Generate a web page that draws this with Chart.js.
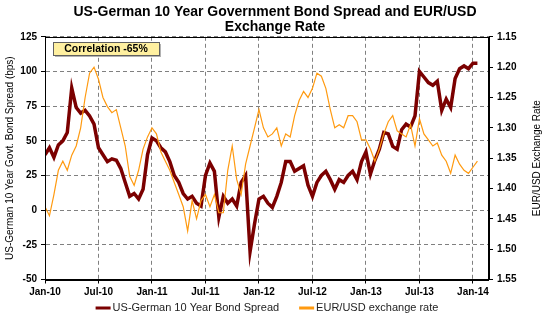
<!DOCTYPE html>
<html>
<head>
<meta charset="utf-8">
<script src="https://cdn.jsdelivr.net/npm/chart.js@4.4.1/dist/chart.umd.min.js"></script>
<style>
  html, body { margin: 0; padding: 0; background: #fff; }
</style>
</head>
<body>
<canvas id="chart" width="550" height="322"></canvas>
<script>
// one point every half month, starting Jan 2010
const tickLabels = ["Jan-10", "Jul-10", "Jan-11", "Jul-11", "Jan-12", "Jul-12", "Jan-13", "Jul-13", "Jan-14"];
const pointsPerTick = 12;

const spread = [
  40, 45, 38, 47, 50, 56, 88, 74, 70, 72,
  68, 62, 45, 40, 35, 37, 36, 30, 20, 10,
  12, 8, 15, 40, 52, 50, 45, 42, 35, 25,
  20, 12, 8, 10, 5, 3, 25, 34, 28, -5,
  10, 5, 8, 3, 20, 25, -30, -10, 8, 10,
  5, 2, 10, 20, 35, 35, 28, 30, 32, 18,
  10, 20, 25, 28, 22, 15, 22, 20, 25, 28,
  22, 35, 42, 26, 36, 44, 56, 55, 46, 44,
  58, 62, 60, 68, 100, 96, 92, 90, 93, 72,
  80, 74, 95, 102, 104, 102, 106, 106
];

const eurusd = [
  1.430, 1.445, 1.410, 1.370, 1.355, 1.370, 1.345, 1.330, 1.300, 1.250,
  1.210, 1.200, 1.220, 1.250, 1.265, 1.275, 1.270, 1.300, 1.330, 1.380,
  1.395, 1.370, 1.335, 1.315, 1.300, 1.310, 1.340, 1.355, 1.370, 1.390,
  1.410, 1.430, 1.470, 1.420, 1.450, 1.420, 1.410, 1.430, 1.410, 1.440,
  1.440, 1.370, 1.330, 1.385, 1.410, 1.360, 1.330, 1.300, 1.270, 1.300,
  1.315, 1.310, 1.300, 1.330, 1.310, 1.315, 1.280, 1.255, 1.240, 1.250,
  1.235, 1.210, 1.215, 1.235, 1.270, 1.300, 1.295, 1.300, 1.280, 1.280,
  1.290, 1.320, 1.320, 1.335, 1.355, 1.335, 1.310, 1.290, 1.280, 1.305,
  1.310, 1.315, 1.295, 1.330, 1.285, 1.310, 1.320, 1.330, 1.325, 1.345,
  1.355, 1.375, 1.345, 1.360, 1.370, 1.375, 1.365, 1.355
];

const seriesNames = ["US-German 10 Year Bond Spread", "EUR/USD exchange rate"];
const chartTitle = ["US-German 10 Year Government Bond Spread and EUR/USD", "Exchange Rate"];
const leftAxisTitle = "US-German 10 Year Govt. Bond Spread (bps)";
const rightAxisTitle = "EUR/USD Exchange Rate";
const correlationNote = "Correlation -65%";

const FONT = "'Liberation Sans', Arial, sans-serif";
Chart.defaults.font.family = FONT;
Chart.defaults.color = "#000";

const toPoints = (values) => values.map((v, i) => ({ x: i, y: v }));

const extrasPlugin = {
  id: "extras",
  afterDatasetsDraw(chart) {
    const { ctx, chartArea: a } = chart;
    ctx.save();
    ctx.strokeStyle = "#000";
    ctx.lineWidth = 1;
    ctx.strokeRect(Math.round(a.left) + 0.5, Math.round(a.top) + 0.5,
      Math.round(a.right - a.left) - 1, Math.round(a.bottom - a.top));

    // correlation label
    const bx = Math.round(a.left) + 8, by = Math.round(a.top) + 5, bw = 106, bh = 13;
    ctx.fillStyle = "rgba(0,0,0,0.3)";
    ctx.fillRect(bx + 2, by + 2, bw, bh);
    ctx.fillStyle = "#FFF0A0";
    ctx.fillRect(bx, by, bw, bh);
    ctx.strokeStyle = "#606060";
    ctx.strokeRect(bx + 0.5, by + 0.5, bw, bh);
    ctx.fillStyle = "#000";
    ctx.font = "bold 10.5px " + FONT;
    ctx.textAlign = "center";
    ctx.textBaseline = "middle";
    ctx.fillText(correlationNote, bx + bw / 2, by + bh / 2 + 1);
    ctx.restore();
  },
  afterDraw(chart) {
    const { ctx, chartArea: a } = chart;
    ctx.save();
    // right axis title, reading bottom to top
    ctx.translate(537, (a.top + a.bottom) / 2);
    ctx.rotate(-Math.PI / 2);
    ctx.font = "10px " + FONT;
    ctx.fillStyle = "#000";
    ctx.textAlign = "center";
    ctx.textBaseline = "middle";
    ctx.fillText(rightAxisTitle, 0, 0);
    ctx.restore();

    // legend, centred under the plot area
    ctx.save();
    ctx.font = "11px " + FONT;
    ctx.textBaseline = "middle";
    ctx.textAlign = "left";
    const sample = 15, gap = 2, spacing = 20, y = 308;
    const items = chart.data.datasets.map((ds) => ({
      label: ds.label, color: ds.borderColor, w: ctx.measureText(ds.label).width
    }));
    const total = items.reduce((s, it) => s + sample + gap + it.w, 0) + spacing * (items.length - 1);
    let x = (a.left + a.right) / 2 - total / 2;
    items.forEach((it) => {
      ctx.fillStyle = it.color;
      ctx.fillRect(x, y - 1.5, sample, 3);
      x += sample + gap;
      ctx.fillStyle = "#222";
      ctx.fillText(it.label, x, y);
      x += it.w + spacing;
    });
    ctx.restore();
  }
};

new Chart(document.getElementById("chart"), {
  type: "line",
  data: {
    datasets: [
      {
        label: seriesNames[0],
        data: toPoints(spread),
        yAxisID: "y",
        borderColor: "#7B0000",
        borderWidth: 3.5,
        pointRadius: 0,
        tension: 0,
        order: 1
      },
      {
        label: seriesNames[1],
        data: toPoints(eurusd),
        yAxisID: "y1",
        borderColor: "#FF9A10",
        borderWidth: 1.2,
        pointRadius: 0,
        tension: 0,
        order: 0
      }
    ]
  },
  options: {
    responsive: false,
    animation: false,
    devicePixelRatio: 1,
    layout: { padding: { left: 0, right: 0, top: 0, bottom: 22.5 } },
    plugins: {
      title: {
        display: true,
        text: chartTitle,
        color: "#000",
        font: { size: 14, weight: "bold", lineHeight: 1.1 },
        padding: { top: 4, bottom: 2 }
      },
      legend: { display: false },
      tooltip: { enabled: false }
    },
    scales: {
      x: {
        type: "linear",
        min: 0,
        max: 99.6,
        afterBuildTicks: (s) => {
          s.ticks = tickLabels.map((_, k) => ({ value: k * pointsPerTick }));
        },
        ticks: {
          callback: (v) => tickLabels[Math.round(v / pointsPerTick)] ?? "",
          font: { size: 10, weight: "bold" },
          color: "#000",
          maxRotation: 0,
          autoSkip: false,
          padding: 3
        },
        grid: { color: "#808080", tickLength: 4, tickColor: "#000" },
        border: { color: "#000", dash: [4, 3] },
        afterFit: (s) => { s.height = 20; }
      },
      y: {
        position: "left",
        min: -50,
        max: 125,
        ticks: { stepSize: 25, font: { size: 10, weight: "bold" }, color: "#000", padding: 4 },
        grid: { color: "#808080", tickLength: 4, tickColor: "#000" },
        border: { color: "#000", dash: [4, 3] },
        title: {
          display: true,
          text: leftAxisTitle,
          color: "#000",
          font: { size: 10 },
          padding: { top: 4, bottom: 0 }
        },
        afterFit: (s) => { s.width = 45; }
      },
      y1: {
        position: "right",
        min: 1.15,
        max: 1.55,
        reverse: true,
        ticks: {
          stepSize: 0.05,
          font: { size: 10, weight: "bold" },
          color: "#000",
          padding: 4,
          callback: (v) => v.toFixed(2)
        },
        grid: { drawOnChartArea: false, tickLength: 4, tickColor: "#000" },
        border: { color: "#000" },
        afterFit: (s) => { s.width = 61; }
      }
    }
  },
  plugins: [extrasPlugin]
});
</script>
</body>
</html>
